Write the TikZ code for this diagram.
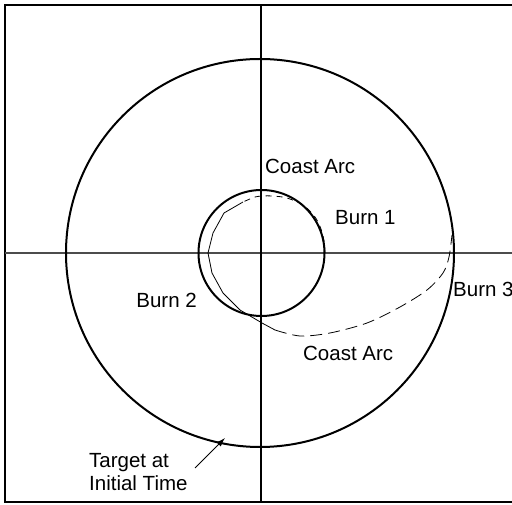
\documentclass[tikz,border=0pt]{standalone}
\usepackage{fontspec}
\setmainfont{Liberation Sans}
\usetikzlibrary{arrows.meta}
\begin{document}
\begin{tikzpicture}[x=1pt, y=1pt,
  lbl/.style={inner sep=0pt, font=\fontsize{20.5}{23}\selectfont},
  orbit/.style={line width=2pt},
  path/.style={line width=0.8pt}]

\useasboundingbox (-261,-252) rectangle (251,253);

\coordinate (tr) at (251,248);
\coordinate (tl) at (-256,248);
\coordinate (bl) at (-256,-249);
\coordinate (br) at (251,-249);
\draw[line width=1.8pt] (tr) -- (tl) -- (bl) -- (br);

\coordinate (xl) at (-256,0);
\coordinate (xr) at (251,0);
\coordinate (yt) at (0,248);
\coordinate (yb) at (0,-249);
\draw[line width=1.4pt, black!70] (xl) -- (xr);
\draw[line width=1.8pt] (yt) -- (yb);

\node[circle, draw, orbit, minimum size=388pt, inner sep=0pt] (target) at (-1,0) {};
\node[circle, draw, orbit, minimum size=126pt, inner sep=0pt] (park) at (0.5,0) {};

\coordinate (b1) at (64,0);
\coordinate (b2s) at (-18,51);
\coordinate (b2e) at (14,-77);
\coordinate (b3) at (191,18);

\draw[path, dash pattern=on 6pt off 5pt] plot[smooth] coordinates
  {(b1) (63,12) (60,24) (54,36) (42,48) (26,55) (12,57) (2,57) (-6,56) (b2s)};
\draw[path] (b2s) -- (-37,40) -- (-48,20) -- (-53,0) -- (-49,-20) -- (-38,-40)
  -- (-21,-57) -- (1,-70) -- (b2e);
\draw[path, dash pattern=on 12pt off 6pt] plot[smooth] coordinates
  {(b2e) (39,-83) (69,-80) (106,-70) (139,-54) (166,-37) (182,-20) (188,-4) (b3)};

\node[lbl, anchor=west] (coast1) at (4,87) {Coast Arc};
\node[lbl, anchor=west] (burn1) at (74,35) {Burn 1};
\node[lbl, anchor=east] (burn2) at (-64,-47) {Burn 2};
\node[lbl, anchor=west] (burn3) at (192,-36) {Burn 3};
\node[lbl, anchor=west] (coast2) at (42,-100) {Coast Arc};
\node[lbl, anchor=west, align=left] (tgt) at (-172,-219) {Target at\\Initial Time};

\coordinate (tail) at (-66,-215);
\coordinate (tip) at (-36,-185);
\draw[line width=0.8pt, -{Latex[length=9pt, width=6pt]}] (tail) -- (tip);

\end{tikzpicture}
\end{document}
